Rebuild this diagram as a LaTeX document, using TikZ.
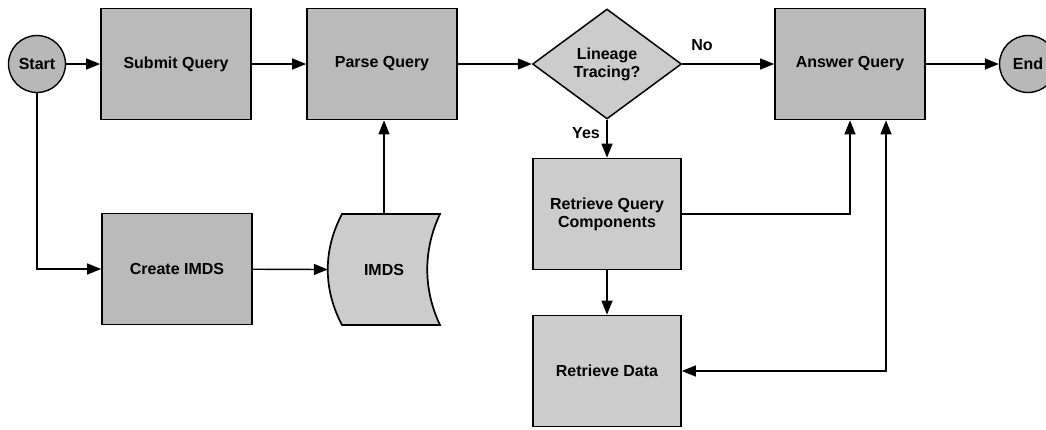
\documentclass[tikz,border=0pt]{standalone}
\usepackage{fontspec}
\setmainfont{Liberation Sans}
\usetikzlibrary{shapes.geometric,arrows.meta}

\definecolor{procfill}{gray}{0.73}
\definecolor{lightfill}{gray}{0.80}
\definecolor{termfill}{gray}{0.72}

\tikzset{
  every node/.style={font=\fontsize{16}{18}\selectfont\bfseries},
  procbox/.style={draw=black, line width=1.7pt, fill=procfill,
    minimum width=150pt, minimum height=111pt, align=center, inner sep=0pt},
  lightbox/.style={procbox, fill=lightfill},
  terminal/.style={draw=black, line width=1.4pt, fill=termfill, circle,
    minimum size=57pt, inner sep=0pt},
  decision/.style={draw=black, line width=1.5pt, fill=lightfill, diamond,
    aspect=1.35, minimum width=149pt, minimum height=110pt, inner sep=0pt,
    align=center},
  tip/.tip={Triangle[length=14pt,width=11pt]},
  flow/.style={line width=1.4pt, -tip},
  biflow/.style={line width=1.4pt, tip-tip},
  lbl/.style={font=\fontsize{16}{18}\selectfont\bfseries}
}

\begin{document}
\begin{tikzpicture}[x=1pt, y=-1pt]
  \useasboundingbox (0,0) rectangle (1046,429);

  % terminals
  \node[terminal] (start) at (37,64) {Start};
  \node[terminal] (finish) at (1028,64) {End};

  % process boxes
  \node[procbox] (submit) at (176,64) {Submit Query};
  \node[procbox] (parse) at (382,64) {Parse Query};
  \node[procbox] (answer) at (850,64) {Answer Query};
  \node[procbox] (create) at (177,269) {Create IMDS};
  \node[lightbox, minimum width=148pt] (rqc) at (607,214) {Retrieve Query\\Components};
  \node[lightbox, minimum width=148pt] (rdata) at (607,371) {Retrieve Data};

  % decision
  \node[decision] (lin) at (607,64) {Lineage\\Tracing?};

  % stored data shape for the IMDS
  \draw[line width=1.7pt, fill=lightfill]
    (342,214) -- (440,214)
    .. controls (423,250) and (423,289) .. (440,325)
    -- (342,325)
    .. controls (323,289) and (323,250) .. (342,214) -- cycle;
  \node[minimum width=112pt, minimum height=111pt, inner sep=0pt] (imds) at (384,269.5) {IMDS};

  % connectors
  \draw[flow] (start) -- (submit);
  \draw[flow] (submit) -- (parse);
  \draw[flow] (parse) -- (lin);
  \draw[flow] (lin) -- (answer);
  \draw[flow] (lin.south) -- (rqc.north);
  \draw[flow] (start.south) |- (create.west);
  \draw[flow] (create) -- (imds.west);
  \draw[flow] (imds.north) -- (imds.north |- parse.south);
  \draw[flow] (answer) -- (finish);
  \draw[flow] (rqc.east) -| (answer.south);
  \draw[flow] (rqc) -- (rdata);
  \draw[biflow] ([xshift=36pt]answer.south) |- (rdata.east);

  % branch labels
  \node[lbl] (nolbl) at (702,45) {No};
  \node[lbl] (yeslbl) at (586,133) {Yes};
\end{tikzpicture}
\end{document}
